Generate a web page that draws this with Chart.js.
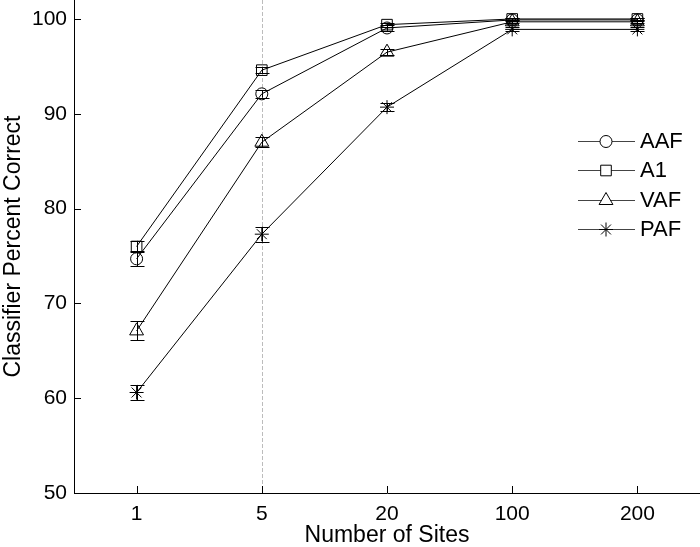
<!DOCTYPE html>
<html>
<head>
<meta charset="utf-8">
<script src="https://cdn.jsdelivr.net/npm/chart.js@4"></script>
<style>
html, body { margin: 0; padding: 0; background: #fff; }
</style>
</head>
<body>
<canvas id="chart1" width="700" height="547"></canvas>
<script>
// values
const sites = ['1', '5', '20', '100', '200']
const yTicks = [50, 60, 70, 80, 90, 100]

const aaf = [74.7, 92.1, 99.05, 99.9, 99.9]
const a1 = [76.0, 94.6, 99.4, 100, 100]
const vaf = [67.1, 87.0, 96.5, 99.7, 99.7]
const paf = [60.6, 77.3, 90.7, 98.9, 98.9]

const errAaf = [0.8, 0.4, 0.3, 0.15, 0.15]
const errA1 = [0.6, 0.3, 0.2, 0.1, 0.1]
const errVaf = [1.0, 0.5, 0.3, 0.15, 0.15]
const errPaf = [0.8, 0.8, 0.4, 0.2, 0.2]

const FONT = "'Liberation Sans', Arial, sans-serif"
Chart.defaults.font.family = FONT
Chart.defaults.color = '#000'

const series = (label, data, err, pointStyle, radius) => ({
    label: label,
    data: data,
    err: err,
    borderColor: '#000',
    borderWidth: 1,
    pointStyle: pointStyle,
    pointRadius: radius,
    pointHoverRadius: radius,
    pointBorderColor: '#000',
    pointBorderWidth: 1,
    pointBackgroundColor: 'rgba(0,0,0,0)',
    tension: 0,
    clip: false
})

// dotted guide at 5 sites
const guideLine = {
    id: 'guideLine',
    beforeDatasetsDraw(chart) {
        const {ctx, chartArea, scales: {x}} = chart
        const px = Math.round(x.getPixelForValue(1)) + 0.5
        ctx.save()
        ctx.strokeStyle = '#bcbcbc'
        ctx.lineWidth = 1
        ctx.setLineDash([4, 2])
        ctx.beginPath()
        ctx.moveTo(px, chartArea.top)
        ctx.lineTo(px, chartArea.bottom)
        ctx.stroke()
        ctx.restore()
    }
}

// inward tick marks
const innerTicks = {
    id: 'innerTicks',
    afterDraw(chart) {
        const {ctx, chartArea, scales: {x, y}} = chart
        ctx.save()
        ctx.strokeStyle = '#000'
        ctx.lineWidth = 1
        ctx.beginPath()
        sites.forEach((s, i) => {
            const px = Math.round(x.getPixelForValue(i)) + 0.5
            ctx.moveTo(px, chartArea.bottom)
            ctx.lineTo(px, chartArea.bottom - 7)
        })
        yTicks.forEach(v => {
            const py = Math.round(y.getPixelForValue(v)) + 0.5
            ctx.moveTo(chartArea.left, py)
            ctx.lineTo(chartArea.left + 7, py)
        })
        ctx.stroke()
        ctx.restore()
    }
}

// error bars with caps
const errorBars = {
    id: 'errorBars',
    afterDatasetsDraw(chart) {
        const {ctx, scales: {x, y}} = chart
        ctx.save()
        ctx.strokeStyle = '#000'
        ctx.lineWidth = 1
        chart.data.datasets.forEach(ds => {
            ds.data.forEach((v, i) => {
                const px = Math.round(x.getPixelForValue(i)) + 0.5
                const top = y.getPixelForValue(v + ds.err[i])
                const bot = y.getPixelForValue(v - ds.err[i])
                ctx.beginPath()
                ctx.moveTo(px, top)
                ctx.lineTo(px, bot)
                ctx.moveTo(px - 7, Math.round(top) + 0.5)
                ctx.lineTo(px + 7, Math.round(top) + 0.5)
                ctx.moveTo(px - 7, Math.round(bot) + 0.5)
                ctx.lineTo(px + 7, Math.round(bot) + 0.5)
                ctx.stroke()
            })
        })
        ctx.restore()
    }
}

// legend: short line with the marker in the middle
const lineLegend = {
    id: 'lineLegend',
    afterDraw(chart) {
        const {ctx} = chart
        ctx.save()
        ctx.font = '22px ' + FONT
        ctx.textBaseline = 'middle'
        chart.data.datasets.forEach((ds, i) => {
            const cy = 140.5 + i * 29.5
            ctx.strokeStyle = '#444'
            ctx.lineWidth = 1
            ctx.beginPath()
            ctx.moveTo(578, Math.round(cy) + 0.5)
            ctx.lineTo(635, Math.round(cy) + 0.5)
            ctx.stroke()
            ctx.strokeStyle = '#000'
            ctx.fillStyle = '#fff'
            Chart.helpers.drawPoint(ctx, {pointStyle: ds.pointStyle, radius: ds.pointRadius, borderWidth: 1, rotation: 0}, 606, Math.round(cy) + 0.5)
            ctx.fillStyle = '#000'
            ctx.fillText(ds.label, 640, cy + 1)
        })
        ctx.restore()
    }
}

new Chart(document.getElementById('chart1'), {
    type: 'line',
    data: {
        labels: sites,
        datasets: [
            series('AAF', aaf, errAaf, 'circle', 6),
            series('A1', a1, errA1, 'rect', 7.5),
            series('VAF', vaf, errVaf, 'triangle', 8),
            series('PAF', paf, errPaf, 'star', 7)
        ]
    },
    plugins: [guideLine, errorBars, innerTicks, lineLegend],
    options: {
        responsive: false,
        animation: false,
        devicePixelRatio: 1,
        layout: { padding: 0, autoPadding: false },
        plugins: {
            legend: { display: false },
            tooltip: { enabled: false }
        },
        scales: {
            x: {
                offset: true,
                grid: { display: false, drawTicks: false },
                border: { color: '#000', width: 1 },
                ticks: { font: { size: 21 }, padding: 9, maxRotation: 0 },
                title: {
                    display: true,
                    text: 'Number of Sites',
                    font: { size: 23, lineHeight: 1 },
                    padding: { top: 0, bottom: 0 }
                },
                afterFit: s => {
                    s.height = 54
                    s.paddingLeft = 0
                    s.paddingRight = 0
                }
            },
            y: {
                min: 50,
                max: 102,
                afterBuildTicks: axis => { axis.ticks = yTicks.map(v => ({ value: v })) },
                grid: { display: false, drawTicks: false },
                border: { color: '#000', width: 1 },
                ticks: { font: { size: 21 }, padding: 7 },
                title: {
                    display: true,
                    text: 'Classifier Percent Correct',
                    font: { size: 23, lineHeight: 1.2 },
                    padding: { top: 0, bottom: 0 }
                },
                afterFit: s => {
                    s.width = 74
                    s.paddingTop = 0
                    s.paddingBottom = 0
                }
            }
        }
    }
})
</script>
</body>
</html>
